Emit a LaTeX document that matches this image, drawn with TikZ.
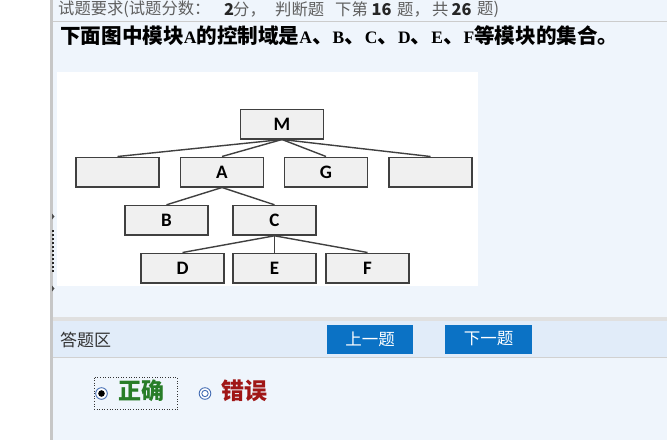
\documentclass[tikz,border=0pt]{standalone}
\usepackage{fontspec}
\setmainfont{Liberation Serif}
\newfontfamily\cjk{Noto Sans CJK SC}
\newfontfamily\boxfont{Carlito}
\definecolor{pagebg}{RGB}{239,245,252}
\definecolor{bandbg}{RGB}{225,236,249}
\definecolor{boxgray}{RGB}{240,240,240}
\definecolor{btnblue}{RGB}{11,114,197}
\definecolor{okgreen}{RGB}{40,125,40}
\definecolor{errred}{RGB}{160,22,22}
\definecolor{radioblue}{RGB}{70,110,180}
\definecolor{hdrgray}{RGB}{95,95,95}
\newcommand{\qL}[1]{{\rmfamily\bfseries\fontsize{17.5}{17.5}\selectfont #1}}
\tikzset{
  mod/.style={draw=black!75, fill=boxgray, line width=1.5pt, minimum width=83pt, minimum height=29.5pt, inner sep=0pt, font=\boxfont\bfseries\fontsize{19}{19}\selectfont},
  conn/.style={draw=black!75, line width=1.4pt},
  btn/.style={fill=btnblue, text=white, minimum width=86.5pt, minimum height=29pt, inner sep=0pt, font=\cjk\fontsize{16.5}{16.5}\selectfont},
  txt/.style={inner sep=0pt, anchor=west},
  hd/.style={txt, text=hdrgray, font=\cjk\fontsize{16.3}{16.3}\selectfont},
  hdb/.style={txt, text=black!85, font=\cjk\bfseries\fontsize{16.3}{16.3}\selectfont}
}
\begin{document}
\begin{tikzpicture}[x=1pt,y=-1pt]
\useasboundingbox (0,0) rectangle (667,440);
\fill[white] (0,0) rectangle (667,440);
\fill[pagebg] (53,0) rectangle (667,440);
% left border
\fill[black!22] (50,0) rectangle (52.5,440);
% header line
\draw[black!20, line width=1pt] (53,21) -- (667,21);
\node[hd] (h1) at (58,9.5) {试题要求(试题分数：};
\node[hdb] (h2) at (224,9.5) {2};
\node[hd] (h3) at (233,9.5) {分，};
\node[hd] (h4) at (275,9.5) {判断题};
\node[hd] (h5) at (335,9.5) {下第};
\node[hdb] (h6) at (371.5,9.5) {16};
\node[hd] (h7) at (397,9.5) {题，};
\node[hd] (h8) at (432,9.5) {共};
\node[hdb] (h9) at (451.5,9.5) {26};
\node[hd] (h10) at (477,9.5) {题)};
\node[txt, font=\cjk\bfseries\fontsize{20.6}{20.6}\selectfont] (q) at (60,36)
  {下面图中模块\qL{A}的控制域是\qL{A}、\qL{B}、\qL{C}、\qL{D}、\qL{E}、\qL{F}等模块的集合。};
% picture area
\fill[white] (57,72) rectangle (478,286);
\node[mod] (M) at (282,124) {M};
\node[mod] (X1) at (117.5,172) {};
\node[mod] (A) at (222,172) {A};
\node[mod] (G) at (326,172) {G};
\node[mod] (X2) at (430.5,172) {};
\node[mod] (B) at (166.5,220.3) {B};
\node[mod] (C) at (274.5,220.3) {C};
\node[mod] (D) at (182.5,268) {D};
\node[mod] (E) at (274.5,268) {E};
\node[mod] (F) at (367.5,268) {F};
\foreach \t in {X1,A,G,X2} \draw[conn] (M.south) -- (\t.north);
\foreach \t in {B,C} \draw[conn] (A.south) -- (\t.north);
\foreach \t in {D,E,F} \draw[conn] (C.south) -- (\t.north);
% left splitter handle
\fill[black!70] (52,213.5) -- (54.5,216.5) -- (52,219.5) -- cycle;
\fill[black!70] (52,285.5) -- (54.5,288.5) -- (52,291.5) -- cycle;
\foreach \k in {0,...,10} \fill[black!85] (52.2,230+4*\k) rectangle (54,231.8+4*\k);
% answer band
\fill[black!12] (53,316.5) rectangle (667,320.5);
\fill[bandbg] (53,320.5) rectangle (667,357);
\draw[black!18, line width=1pt] (53,357.5) -- (667,357.5);
\node[txt, text=black!80, font=\cjk\fontsize{17}{17}\selectfont] (ans) at (60,340) {答题区};
\node[btn] (prev) at (370,339) {上一题};
\node[btn] (next) at (488.7,339) {下一题};
% radios
\draw[black!80, dotted, line width=0.6pt] (94.5,377.5) rectangle (177.5,409.3);
\coordinate (r1) at (101.5,393.5);
\coordinate (r2) at (205,393.5);
\draw[radioblue, fill=white, line width=0.9pt] (r1) circle (5.8);
\fill[black] (r1) circle (3.3);
\draw[radioblue, fill=white, line width=0.9pt] (r2) circle (5.8);
\draw[radioblue, line width=0.9pt] (r2) circle (3.2);
\node[txt, text=okgreen, font=\cjk\bfseries\fontsize{23}{23}\selectfont] (ok) at (118,391) {正确};
\node[txt, text=errred, font=\cjk\bfseries\fontsize{23}{23}\selectfont] (err) at (221,391) {错误};
\end{tikzpicture}
\end{document}
